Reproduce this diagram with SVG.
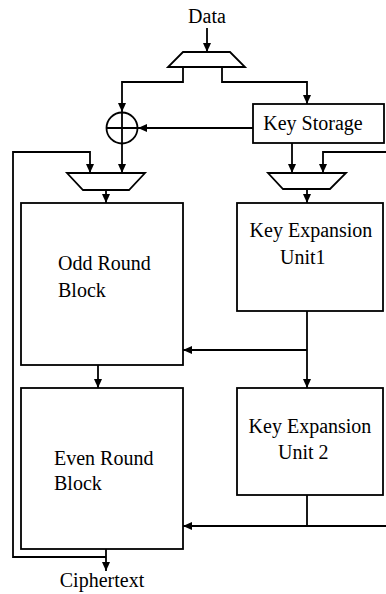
<svg xmlns="http://www.w3.org/2000/svg" width="386" height="594" viewBox="0 0 386 594">
<style>
.s{fill:none;stroke:#000;stroke-width:1.8}
.b{fill:#fff;stroke:#000;stroke-width:1.8}
.c{fill:none;stroke:#000;stroke-width:1.8;marker-end:url(#ah)}
.l{fill:none;stroke:#000;stroke-width:1.8}
.t{font-family:'Liberation Serif', serif;font-size:20px;fill:#000}
</style>
<defs>
<marker id="ah" markerUnits="userSpaceOnUse" markerWidth="10" markerHeight="10" refX="9" refY="4" orient="auto">
<path d="M0,0 L9,4 L0,8 z" fill="#000"/>
</marker>
</defs>
<rect width="386" height="594" fill="#fff"/>
<g id="connectors">
<path class="c" d="M207,28 V52"/>
<path class="c" d="M183,67 V82 H122 V112"/>
<path class="c" d="M222,67 V82 H307 V104"/>
<path class="c" d="M253,128 H138"/>
<path class="c" d="M122,144 V173"/>
<path class="c" d="M106,557 H13 V152 H90 V173"/>
<path class="c" d="M106,549 V571"/>
<path class="c" d="M106,190 V203"/>
<path class="c" d="M292,143 V173"/>
<path class="c" d="M386,152 H323 V173"/>
<path class="c" d="M307,189 V203"/>
<path class="c" d="M307,311 V388"/>
<path class="c" d="M307,350 H183"/>
<path class="c" d="M98,365 V388"/>
<path class="l" d="M307,495 V526"/>
<path class="c" d="M386,526 H183"/>
</g>
<g id="data-label"><text class="t" font-family="Liberation Serif, serif" x="207" y="23" text-anchor="middle">Data</text></g>
<g id="input-mux"><polygon class="b" points="183,52 230,52 245,67 168,67"/></g>
<g id="xor">
<circle class="b" cx="122" cy="128" r="15.5"/>
<path class="s" d="M122,112.5 V143.5 M106.5,128 H137.5"/>
</g>
<g id="key-storage">
<rect class="b" x="253" y="104" width="131" height="39"/>
<text class="t" font-family="Liberation Serif, serif" x="313" y="130" text-anchor="middle">Key Storage</text>
</g>
<g id="left-mux"><polygon class="b" points="67,173 145,173 129,190 83,190"/></g>
<g id="right-mux"><polygon class="b" points="268,173 346,173 330,189 283,189"/></g>
<g id="odd-round">
<rect class="b" x="21" y="203" width="162" height="162"/>
<text class="t" font-family="Liberation Serif, serif" x="58" y="270">Odd Round</text>
<text class="t" font-family="Liberation Serif, serif" x="58" y="297">Block</text>
</g>
<g id="keu1">
<rect class="b" x="237" y="203" width="146" height="108"/>
<text class="t" font-family="Liberation Serif, serif" x="311" y="237" text-anchor="middle">Key Expansion</text>
<text class="t" font-family="Liberation Serif, serif" x="280" y="264">Unit1</text>
</g>
<g id="even-round">
<rect class="b" x="21" y="388" width="162" height="161"/>
<text class="t" font-family="Liberation Serif, serif" x="54" y="465">Even Round</text>
<text class="t" font-family="Liberation Serif, serif" x="54" y="490">Block</text>
</g>
<g id="keu2">
<rect class="b" x="237" y="388" width="146" height="107"/>
<text class="t" font-family="Liberation Serif, serif" x="310" y="433" text-anchor="middle">Key Expansion</text>
<text class="t" font-family="Liberation Serif, serif" x="278" y="459">Unit 2</text>
</g>
<g id="ciphertext-label"><text class="t" font-family="Liberation Serif, serif" x="102" y="587" text-anchor="middle">Ciphertext</text></g>
</svg>
